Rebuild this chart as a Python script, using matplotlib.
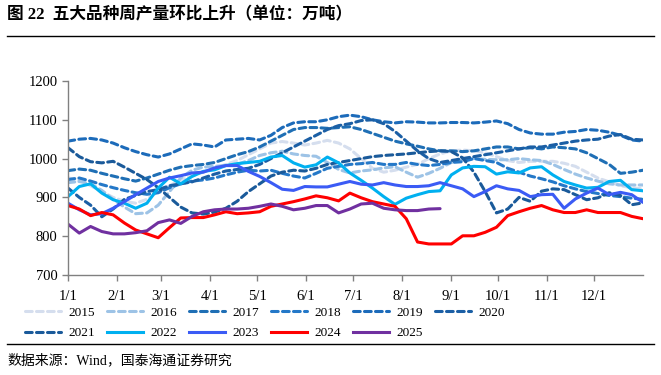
import numpy as np
import matplotlib
matplotlib.use("Agg")
import matplotlib.pyplot as plt
from matplotlib.lines import Line2D

plt.rcParams['font.family'] = ['Liberation Serif', 'Noto Sans CJK SC']

# 周度数据（单位：万吨），每年52周
years = ['2015', '2016', '2017', '2018', '2019', '2020', '2021', '2022', '2023', '2024', '2025']

y2015 = [950, 945, 930, 915, 900, 890, 885, 895, 915, 930, 945, 955, 965, 975, 985, 995, 1010, 1025,
         1040, 1044, 1040, 1035, 1040, 1047, 1040, 1025, 1000, 975, 965, 970, 978, 985, 1000, 1012,
         1020, 1022, 1020, 1015, 1005, 995, 990, 993, 993, 993, 988, 980, 965, 950, 940, 930, 925, 922]
y2016 = [938, 941, 935, 918, 895, 875, 858, 860, 880, 915, 950, 970, 978, 980, 982, 985, 995, 1008,
         1015, 1019, 1012, 1008, 1006, 990, 972, 963, 968, 971, 976, 979, 965, 952, 962, 975, 990, 997,
         1000, 998, 997, 997, 1000, 997, 995, 985, 972, 960, 950, 942, 935, 932, 932, 932]
y2017 = [969, 973, 970, 962, 955, 948, 942, 950, 960, 970, 978, 982, 985, 990, 1000, 1010, 1018, 1030,
         1045, 1060, 1075, 1080, 1080, 1078, 1080, 1082, 1075, 1065, 1055, 1045, 1038, 1032, 1025, 1020,
         1020, 1018, 1020, 1025, 1030, 1030, 1025, 1028, 1025, 1030, 1028, 1025, 1015, 1000, 985, 962,
         965, 970]
y2018 = [946, 950, 942, 933, 925, 918, 912, 908, 912, 925, 935, 942, 945, 950, 958, 965, 970, 968,
         970, 962, 955, 950, 962, 975, 980, 985, 987, 990, 985, 985, 990, 985, 982, 985, 990, 992,
         1000, 995, 990, 975, 965, 955, 948, 940, 930, 922, 915, 910, 905, 902, 898, 895]
y2019 = [1045, 1050, 1052, 1048, 1040, 1028, 1018, 1010, 1004, 1012, 1025, 1038, 1035, 1030, 1048,
         1050, 1052, 1048, 1060, 1080, 1092, 1095, 1095, 1100, 1108, 1112, 1108, 1100, 1095, 1092, 1095,
         1094, 1092, 1092, 1093, 1093, 1092, 1094, 1097, 1090, 1075, 1066, 1063, 1063, 1068, 1070, 1075,
         1073, 1068, 1060, 1048, 1045]
y2020 = [924, 900, 880, 850, 870, 895, 905, 915, 920, 930, 935, 940, 950, 960, 968, 972, 975, 985,
         1000, 1015, 1030, 1045, 1060, 1075, 1085, 1090, 1098, 1100, 1090, 1070, 1045, 1020, 1000, 990,
         995, 1000, 1005, 1010, 1015, 1020, 1025, 1030, 1030, 1035, 1040, 1045, 1048, 1050, 1058, 1062,
         1050, 1048]
y2021 = [1028, 1005, 992, 989, 993, 978, 962, 946, 925, 900, 875, 860, 857, 862, 872, 890, 915, 935,
         955, 965, 970, 968, 975, 985, 990, 995, 1000, 1005, 1008, 1010, 1012, 1015, 1018, 1020, 1018,
         1002, 965, 915, 860, 870, 900, 890, 916, 922, 920, 907, 894, 899, 912, 905, 881, 886]
y2022 = [902, 928, 935, 911, 894, 885, 872, 885, 924, 952, 935, 954, 967, 971, 982, 987, 990, 993,
         1004, 1008, 989, 978, 984, 1004, 989, 963, 944, 924, 902, 882, 898, 907, 915, 917, 958, 976,
         980, 979, 960, 966, 963, 976, 979, 958, 941, 932, 924, 926, 941, 944, 920, 917]
y2023 = [885, 868, 855, 858, 872, 889, 907, 924, 941, 950, 956, 963, 965, 976, 982, 982, 967, 954,
         938, 921, 918, 928, 927, 927, 934, 941, 934, 932, 938, 932, 928, 928, 930, 938, 930, 922, 902,
         915, 930, 922, 918, 902, 907, 908, 872, 896, 911, 924, 907, 913, 907, 887]
y2024 = [879, 870, 853, 861, 855, 834, 816, 806, 796, 822, 847, 848, 848, 855, 863, 858, 860, 863,
         877, 883, 889, 896, 904, 899, 891, 911, 899, 889, 883, 877, 845, 785, 780, 780, 780, 801, 801,
         810, 823, 853, 863, 872, 879, 868, 861, 861, 868, 861, 861, 861, 851, 845]
y2025 = [831, 808, 825, 812, 806, 806, 809, 814, 835, 842, 833, 851, 863, 868, 870, 870, 872, 877,
         883, 877, 868, 872, 879, 879, 860, 870, 883, 885, 872, 868, 866, 866, 870, 871]

series = [y2015, y2016, y2017, y2018, y2019, y2020, y2021, y2022, y2023, y2024, y2025]
colors = ['#D5DEEE', '#9DC3E6', '#1F6FB5', '#2478C8', '#1C6BBA', '#1B5FA5', '#1A5A9A',
          '#00B0F0', '#3B5BF5', '#FF0000', '#7030A0']
dashed = [True] * 7 + [False] * 4

month_days = [0, 31, 59, 90, 120, 151, 181, 212, 243, 273, 304, 334]
month_labels = ['1/1', '2/1', '3/1', '4/1', '5/1', '6/1', '7/1', '8/1', '9/1', '10/1', '11/1', '12/1']

fig = plt.figure(figsize=(6.61, 3.75), dpi=100)
ax = fig.add_axes([0.1029, 0.2667, 0.8699, 0.5173])

handles = []
for name, vals, c, d in zip(years, series, colors, dashed):
    x = np.arange(len(vals)) * 365 / 51
    if d:
        ax.plot(x, vals, color=c, lw=2.2, dashes=(2.2, 1.4), dash_capstyle='round')
    else:
        ax.plot(x, vals, color=c, lw=2.2, solid_capstyle='round')
    handles.append(Line2D([], [], color=c, lw=2.2, dashes=(2.2, 1.4) if d else (None, None),
                          dash_capstyle='round'))

ax.set_xlim(0, 365)
ax.set_ylim(700, 1200)
ax.set_yticks(range(700, 1201, 100))
ax.set_xticks(month_days)
ax.set_xticklabels(month_labels)
for s in ['top', 'right']:
    ax.spines[s].set_visible(False)
for s in ['left', 'bottom']:
    ax.spines[s].set_color('#808080')
    ax.spines[s].set_linewidth(1.0)
ax.tick_params(axis='both', colors='#808080', labelcolor='black', labelsize=10.5, length=4, width=1.0)
ax.tick_params(axis='x', pad=7)

# 图例按行排列：第一行2015-2020，第二行2021-2025
order = [0, 6, 1, 7, 2, 8, 3, 9, 4, 10, 5]
fig.legend([handles[i] for i in order], [years[i] for i in order], loc='upper left',
           bbox_to_anchor=(0.038, 0.182), ncol=6, frameon=False,
           fontsize=9.5, handlelength=2.7, handletextpad=0.55, columnspacing=0.95,
           borderpad=0, borderaxespad=0, labelspacing=0.6)

fig.text(0.011, 0.958, '图 22  五大品种周产量环比上升（单位：万吨）', fontsize=12, fontweight='bold',
         va='center', ha='left')
fig.add_artist(Line2D([0.011, 0.99], [0.905, 0.905], color='black', lw=1.0))
fig.add_artist(Line2D([0.011, 0.99], [0.083, 0.083], color='black', lw=1.0))
fig.text(0.011, 0.04, '数据来源：Wind，国泰海通证券研究', fontsize=10, va='center', ha='left')

fig.savefig('out.png', dpi=100)
